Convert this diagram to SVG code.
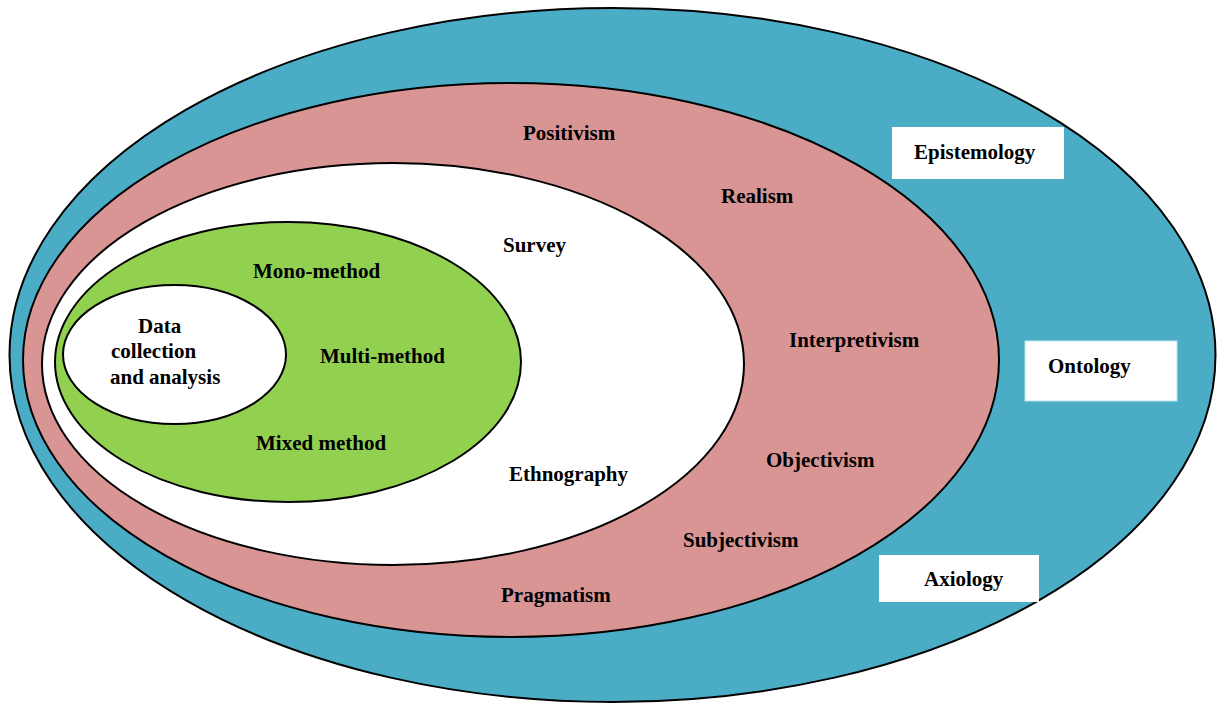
<svg xmlns="http://www.w3.org/2000/svg" width="1217" height="704" viewBox="0 0 1217 704">
<style>
.e{stroke:#000;stroke-width:2}
.t{font-family:"Liberation Serif","Times New Roman",serif;font-weight:bold;font-size:21px;fill:#000}
.b{fill:#fff}
</style>
<rect width="1217" height="704" fill="#fff"/>
<g id="axiology-layer">
<ellipse class="e" cx="612.5" cy="355" rx="603" ry="347" fill="#4BACC6"/>
</g>
<g id="philosophy-layer">
<ellipse class="e" cx="511" cy="360" rx="488" ry="277" fill="#D99594"/>
</g>
<g id="strategy-layer">
<ellipse class="e" cx="393" cy="364" rx="351" ry="201" fill="#fff"/>
</g>
<g id="choices-layer">
<ellipse class="e" cx="288" cy="362" rx="233" ry="140" fill="#92D050"/>
</g>
<g id="data-core">
<ellipse class="e" cx="174.5" cy="354.5" rx="111.5" ry="69.5" fill="#fff"/>
<text class="t" x="138" y="333">Data</text>
<text class="t" x="111" y="358">collection</text>
<text class="t" x="110" y="384">and analysis</text>
</g>
<g id="epistemology">
<rect class="b" x="892" y="127" width="172" height="52"/>
<text class="t" x="914" y="159">Epistemology</text>
</g>
<g id="ontology">
<rect class="b" x="1025" y="341" width="152" height="60" stroke="#bfe3ee" stroke-width="1"/>
<text class="t" x="1048" y="373">Ontology</text>
</g>
<g id="axiology">
<rect class="b" x="879" y="555" width="160" height="47"/>
<text class="t" x="924" y="586">Axiology</text>
</g>
<g id="labels">
<text class="t" x="523" y="140">Positivism</text>
<text class="t" x="721" y="203">Realism</text>
<text class="t" x="789" y="347">Interpretivism</text>
<text class="t" x="766" y="467">Objectivism</text>
<text class="t" x="683" y="547">Subjectivism</text>
<text class="t" x="501" y="602">Pragmatism</text>
<text class="t" x="503" y="252">Survey</text>
<text class="t" x="509" y="481">Ethnography</text>
<text class="t" x="253" y="278">Mono-method</text>
<text class="t" x="320" y="363">Multi-method</text>
<text class="t" x="256" y="450">Mixed method</text>
</g>
<g id="connectors"></g>
</svg>
